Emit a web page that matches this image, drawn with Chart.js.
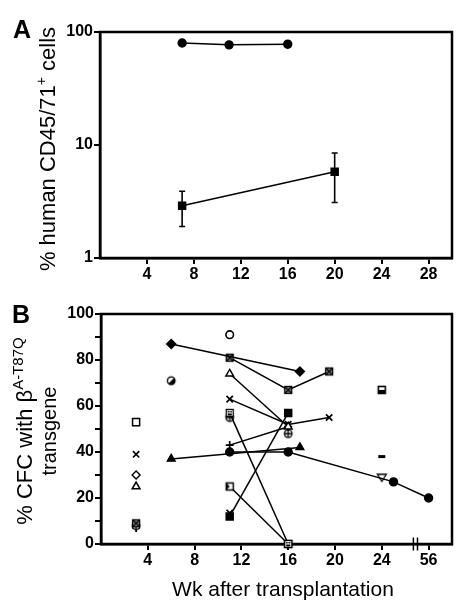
<!DOCTYPE html>
<html>
<head>
<meta charset="utf-8">
<script src="https://cdn.jsdelivr.net/npm/chart.js@4.4.0/dist/chart.umd.min.js"></script>
<style>
body { margin: 0; background: #fff; }
canvas { display: block; }
</style>
</head>
<body>
<canvas id="chartA" width="464" height="300"></canvas>
<canvas id="chartB" width="464" height="313"></canvas>
<script>
// ---- panel A data
var weeksA1 = [7, 11, 16];
var cellsA1 = [80, 77, 78];
var weeksA2 = [7, 20];
var cellsA2 = [2.9, 5.8];
var lowA2 = [1.9, 3.1];
var highA2 = [3.9, 8.5];
var tickPosA = [4, 8, 12, 16, 20, 24, 28];
var tickPosAY = [1, 10, 100];

// ---- panel B data (connected mice)
var diamondWk = [6, 17],        diamondVal = [87, 75];
var boxXWk = [11, 16, 19.5],    boxXVal = [81, 67, 75];
var triWk = [11, 16],           triVal = [74, 51];
var xWk = [11, 16, 19.5],       xVal = [63, 52, 55];
var plusWk = [11, 16],          plusVal = [43, 51];
var shieldWk = [11, 16],        shieldVal = [57, 0];
var halfSqWk = [11, 16],        halfSqVal = [25, 0];
var fSqWk = [11, 16],           fSqVal = [12, 57];
var fCircWk = [11, 16, 25, 56], fCircVal = [40, 40, 27, 20];
var fTriWk = [6, 17],           fTriVal = [37, 42];

// ---- panel B data (single time points)
var openSqWk = [3],        openSqVal = [53];
var lonelyXWk = [3, 11],   lonelyXVal = [39, 13.5];
var openDiaWk = [3],       openDiaVal = [30];
var openTriWk = [3],       openTriVal = [25];
var lonelyBoxXWk = [3],    lonelyBoxXVal = [9];
var circPlusWk = [3, 11, 16], circPlusVal = [8, 55, 48];
var lonelyPlusWk = [3],    lonelyPlusVal = [7];
var halfCircWk = [6],      halfCircVal = [71];
var openCircWk = [11],     openCircVal = [91];
var botSqWk = [24],        botSqVal = [67];
var dashWk = [24],         dashVal = [38];
var invTriWk = [24],       invTriVal = [29];

var tickPosB = [4, 8, 12, 16, 20, 24, 28];
var tickLabB = ['4', '8', '12', '16', '20', '24', '56'];

// week 56 sits behind the axis break
function axisPos(wk) {
	return wk === 56 ? 28 : wk;
}
function pts(wk, val) {
	return wk.map(function(w, i){ return {x: axisPos(w), y: val[i]}; });
}

Chart.defaults.font.family = '"Liberation Sans", Arial, Helvetica, sans-serif';
Chart.defaults.color = '#000';

function marker(draw) {
	var c = document.createElement('canvas');
	c.width = 12; c.height = 12;
	var g = c.getContext('2d');
	g.strokeStyle = '#000';
	g.fillStyle = '#000';
	g.lineWidth = 1.3;
	draw(g);
	return c;
}
var mBoxX = marker(function(g){
	g.fillStyle = '#888'; g.fillRect(2.5, 2.5, 7, 7);
	g.strokeRect(2.5, 2.5, 7, 7);
	g.beginPath(); g.moveTo(2.5, 2.5); g.lineTo(9.5, 9.5); g.moveTo(9.5, 2.5); g.lineTo(2.5, 9.5); g.stroke();
});
var mShield = marker(function(g){
	g.fillStyle = '#fff'; g.fillRect(2.5, 2.5, 7, 7);
	g.strokeRect(2.5, 2.5, 7, 7);
	g.fillStyle = '#000'; g.fillRect(4, 4, 1.5, 1.5); g.fillRect(6.5, 4, 1.5, 1.5); g.fillRect(4, 6.5, 4, 2);
});
var mHalfSq = marker(function(g){
	g.fillStyle = '#fff'; g.fillRect(2.5, 2.5, 7, 7);
	g.fillStyle = '#000';
	g.beginPath(); g.moveTo(2.5, 2.5); g.lineTo(2.5, 9.5); g.lineTo(6, 6); g.closePath(); g.fill();
	g.lineWidth = 1.5; g.strokeRect(2.5, 2.5, 7, 7);
});
var mBotSq = marker(function(g){
	g.fillStyle = '#fff'; g.fillRect(2.5, 2.5, 7, 7);
	g.fillStyle = '#000'; g.fillRect(2.5, 6, 7, 3.5);
	g.lineWidth = 1.6; g.strokeRect(2.5, 2.5, 7, 7);
});
var mHalfCirc = marker(function(g){
	g.beginPath(); g.arc(6, 6, 3.8, 0, Math.PI * 2); g.fillStyle = '#fff'; g.fill();
	g.beginPath(); g.arc(6, 6, 3.8, -Math.PI / 4, Math.PI * 3 / 4); g.closePath(); g.fillStyle = '#000'; g.fill();
	g.beginPath(); g.arc(6, 6, 3.8, 0, Math.PI * 2); g.stroke();
});
var mCircPlus = marker(function(g){
	g.beginPath(); g.arc(6, 6, 3.8, 0, Math.PI * 2); g.fillStyle = '#fff'; g.fill(); g.stroke();
	g.beginPath(); g.moveTo(6, 2.5); g.lineTo(6, 9.5); g.moveTo(2.5, 6); g.lineTo(9.5, 6); g.stroke();
});
var mInvTri = marker(function(g){
	g.beginPath(); g.moveTo(1.5, 3); g.lineTo(10.5, 3); g.lineTo(6, 10); g.closePath();
	g.fillStyle = '#fff'; g.fill(); g.stroke();
});

function ser(wk, val, style, fill, line, r, bw) {
	return {
		data: pts(wk, val),
		showLine: line,
		pointStyle: style,
		pointRadius: r || 4,
		backgroundColor: fill ? '#000' : '#fff',
		borderColor: '#000',
		pointBorderWidth: bw || 1.4,
		borderWidth: 1.5,
		clip: false
	};
}

var frame = {
	id: 'frame',
	beforeDatasetsDraw: function(chart) {
		var a = chart.chartArea, ctx = chart.ctx;
		ctx.save();
		ctx.lineWidth = 2.5;
		ctx.strokeStyle = '#000';
		ctx.strokeRect(a.left, a.top, a.right - a.left, a.bottom - a.top);
		ctx.restore();
	}
};

var errorBars = {
	id: 'errorBars',
	afterDatasetsDraw: function(chart) {
		var ctx = chart.ctx, y = chart.scales.y;
		chart.data.datasets.forEach(function(ds, di) {
			if (!ds.errLow) return;
			var meta = chart.getDatasetMeta(di);
			ctx.save();
			ctx.strokeStyle = '#000';
			ctx.lineWidth = 1.6;
			meta.data.forEach(function(pt, i) {
				var lo = y.getPixelForValue(ds.errLow[i]);
				var hi = y.getPixelForValue(ds.errHigh[i]);
				ctx.beginPath();
				ctx.moveTo(pt.x, lo); ctx.lineTo(pt.x, hi);
				ctx.moveTo(pt.x - 3, lo); ctx.lineTo(pt.x + 3, lo);
				ctx.moveTo(pt.x - 3, hi); ctx.lineTo(pt.x + 3, hi);
				ctx.stroke();
			});
			ctx.restore();
		});
	}
};

// rotated text made of pieces, some raised as superscript
function richText(ctx, x, y, rot, parts) {
	var total = 0;
	parts.forEach(function(p){
		ctx.font = (p.bold ? 'bold ' : '') + p.size + 'px "Liberation Sans", Arial, sans-serif';
		p.w = ctx.measureText(p.text).width;
		total += p.w;
	});
	ctx.save();
	ctx.translate(x, y);
	ctx.rotate(rot);
	ctx.fillStyle = '#000';
	ctx.textBaseline = 'alphabetic';
	var cx = -total / 2;
	parts.forEach(function(p){
		ctx.font = (p.bold ? 'bold ' : '') + p.size + 'px "Liberation Sans", Arial, sans-serif';
		ctx.fillText(p.text, cx, p.rise || 0);
		cx += p.w;
	});
	ctx.restore();
}

function axisOpts(extra) {
	var o = {
		grid: { display: true, drawOnChartArea: false, tickLength: 6, lineWidth: 2, color: '#000' },
		border: { display: true, width: 2.5, color: '#000' },
		ticks: { font: { size: 16, weight: 'bold' }, color: '#000', padding: 1 }
	};
	for (var k in extra) o[k] = extra[k];
	return o;
}

// ---------- panel A
new Chart(document.getElementById('chartA'), {
	type: 'scatter',
	data: {
		datasets: [
			ser(weeksA1, cellsA1, 'circle', true, true, 4),
			Object.assign(ser(weeksA2, cellsA2, 'rect', true, true, 5), { errLow: lowA2, errHigh: highA2 })
		]
	},
	options: {
		responsive: false,
		animation: false,
		events: [],
		layout: { padding: { top: 32, right: 12, left: 0, bottom: 0 } },
		plugins: { legend: { display: false }, tooltip: { enabled: false } },
		scales: {
			x: axisOpts({
				type: 'linear', min: 0, max: 30,
				afterBuildTicks: function(s){ s.ticks = tickPosA.map(function(v){ return {value: v}; }); },
				afterFit: function(s){ s.height = 42; }
			}),
			y: axisOpts({
				type: 'logarithmic', min: 1, max: 100,
				afterBuildTicks: function(s){ s.ticks = tickPosAY.map(function(v){ return {value: v}; }); },
				afterFit: function(s){ s.width = 100; }
			})
		}
	},
	plugins: [frame, errorBars, {
		id: 'labelsA',
		afterDraw: function(chart) {
			var ctx = chart.ctx;
			ctx.save();
			ctx.font = 'bold 25px "Liberation Sans", Arial, sans-serif';
			ctx.fillText('A', 13, 38);
			ctx.restore();
			richText(ctx, 55, 149, -Math.PI / 2, [
				{ text: '% human CD45/71', size: 22 },
				{ text: '+', size: 14, rise: -9 },
				{ text: ' cells', size: 22 }
			]);
		}
	}]
});

// ---------- panel B
var xTickOpts = axisOpts({
	type: 'linear', min: 0, max: 30,
	afterBuildTicks: function(s){ s.ticks = tickPosB.map(function(v){ return {value: v}; }); },
	afterFit: function(s){ s.height = 69; }
});
xTickOpts.ticks.callback = function(v, i){ return tickLabB[i]; };

var yTickOpts = axisOpts({
	type: 'linear', min: 0, max: 100,
	afterFit: function(s){ s.width = 101; }
});
yTickOpts.ticks.stepSize = 10;
yTickOpts.ticks.callback = function(v){ return v % 20 === 0 ? String(v) : ''; };

new Chart(document.getElementById('chartB'), {
	type: 'scatter',
	data: {
		datasets: [
			ser(diamondWk, diamondVal, 'rectRot', true, true, 4.5),
			ser(boxXWk, boxXVal, mBoxX, false, true),
			ser(triWk, triVal, 'triangle', false, true, 4.5),
			ser(xWk, xVal, 'crossRot', false, true, 4.5, 1.7),
			ser(plusWk, plusVal, 'cross', false, true, 4, 1.7),
			ser(shieldWk, shieldVal, mShield, false, true),
			ser(halfSqWk, halfSqVal, mHalfSq, false, true),
			ser(fSqWk, fSqVal, 'rect', true, true, 5),
			ser(fCircWk, fCircVal, 'circle', true, true, 4),
			ser(fTriWk, fTriVal, 'triangle', true, true, 4.5),
			ser(openSqWk, openSqVal, 'rect', false, false, 5, 1.5),
			ser(lonelyXWk, lonelyXVal, 'crossRot', false, false, 4.5, 1.7),
			ser(openDiaWk, openDiaVal, 'rectRot', false, false, 4),
			ser(openTriWk, openTriVal, 'triangle', false, false, 4.5, 1.5),
			ser(lonelyBoxXWk, lonelyBoxXVal, mBoxX, false, false),
			ser(circPlusWk, circPlusVal, mCircPlus, false, false),
			ser(lonelyPlusWk, lonelyPlusVal, 'cross', false, false, 4, 1.7),
			ser(halfCircWk, halfCircVal, mHalfCirc, false, false),
			ser(openCircWk, openCircVal, 'circle', false, false, 3.8, 1.6),
			ser(botSqWk, botSqVal, mBotSq, false, false),
			ser(dashWk, dashVal, 'line', false, false, 3.5, 3),
			ser(invTriWk, invTriVal, mInvTri, false, false)
		]
	},
	options: {
		responsive: false,
		animation: false,
		events: [],
		layout: { padding: { top: 14, right: 12, left: 0, bottom: 0 } },
		plugins: { legend: { display: false }, tooltip: { enabled: false } },
		scales: { x: xTickOpts, y: yTickOpts }
	},
	plugins: [frame, {
		id: 'labelsB',
		afterDraw: function(chart) {
			var ctx = chart.ctx, xs = chart.scales.x, a = chart.chartArea;
			// axis break marks
			ctx.save();
			ctx.strokeStyle = '#000';
			ctx.lineWidth = 1.5;
			[26.7, 27.05].forEach(function(v){
				var px = xs.getPixelForValue(v);
				ctx.beginPath();
				ctx.moveTo(px, a.bottom - 6.5);
				ctx.lineTo(px, a.bottom + 6.5);
				ctx.stroke();
			});
			ctx.font = 'bold 25px "Liberation Sans", Arial, sans-serif';
			ctx.fillStyle = '#000';
			ctx.fillText('B', 12, 23);
			ctx.restore();
			richText(ctx, 32, 131, -Math.PI / 2, [
				{ text: '% CFC with \u03b2', size: 22 },
				{ text: 'A-T87Q', size: 15, rise: -9 }
			]);
			richText(ctx, 56, 131, -Math.PI / 2, [
				{ text: 'transgene', size: 20 }
			]);
			richText(ctx, 283, 295.5, 0, [
				{ text: 'Wk after transplantation', size: 21 }
			]);
		}
	}]
});
</script>
</body>
</html>
